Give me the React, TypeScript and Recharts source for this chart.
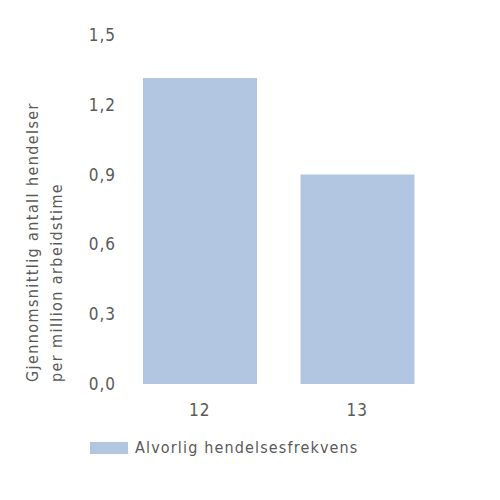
import React from "react";
import { Bar, BarChart, Legend, XAxis, YAxis } from "recharts";

const years = ["12", "13"];
const severeFrequency = [1.315, 0.9];
const yTicks = [0, 0.3, 0.6, 0.9, 1.2, 1.5];
const seriesName = "Alvorlig hendelsesfrekvens";
const axisLines = ["Gjennomsnittlig antall hendelser", "per million arbeidstime"];

const data = years.map((y, i) => ({ year: y, value: severeFrequency[i] }));

const FONT = "'DejaVu Sans Condensed', 'DejaVu Sans', sans-serif";
const TEXT = "#5a5a5a";
const BAR = "#b3c6e1";

function AxisTitle(props: any) {
  const vb = props.viewBox || {};
  const bottom = (vb.y ?? 0) + (vb.height ?? 0) - 2;
  return (
    <g>
      {axisLines.map((line, i) => (
        <text
          key={line}
          x={38 + i * 24}
          y={bottom}
          transform={`rotate(-90, ${38 + i * 24}, ${bottom})`}
          textAnchor="start"
          fill={TEXT}
          fontSize={16}
          fontFamily={FONT}
          letterSpacing={1.4}
        >
          {line}
        </text>
      ))}
    </g>
  );
}

function LegendBox() {
  return (
    <div style={{ display: "flex", alignItems: "center", fontFamily: FONT, fontSize: 16, color: TEXT, letterSpacing: 1.15 }}>
      <span style={{ width: 38, height: 12, background: BAR, display: "inline-block", marginRight: 7 }} />
      <span>{seriesName}</span>
    </div>
  );
}

export default function App() {
  return (
    <div style={{ position: "fixed", top: 0, left: 0, width: 500, height: 500, background: "#fff" }}>
      <BarChart
        width={500}
        height={500}
        data={data}
        margin={{ top: 35, right: 64, left: 0, bottom: 57 }}
        barCategoryGap={22}
      >
        <XAxis
          dataKey="year"
          axisLine={false}
          tickLine={false}
          tickMargin={14}
          height={40}
          tick={{ fill: TEXT, fontSize: 17, fontFamily: FONT, letterSpacing: 1 }}
        />
        <YAxis
          width={121}
          domain={[0, 1.5]}
          ticks={yTicks}
          axisLine={false}
          tickLine={false}
          tickFormatter={(v: number) => v.toFixed(1).replace(".", ",")}
          tick={{ fill: TEXT, fontSize: 17, fontFamily: FONT, letterSpacing: 1, dx: 3 }}
          label={<AxisTitle />}
        />
        <Legend
          content={<LegendBox />}
          wrapperStyle={{ left: 90, top: 438, width: 320 }}
        />
        <Bar dataKey="value" name={seriesName} fill={BAR} isAnimationActive={false} />
      </BarChart>
    </div>
  );
}
